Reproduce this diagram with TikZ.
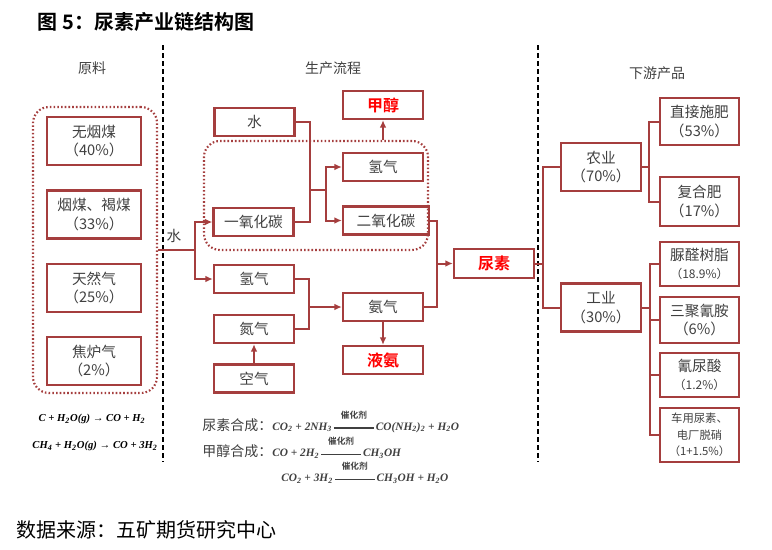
\documentclass[tikz,border=0pt]{standalone}
\usepackage[no-math]{fontspec}
\setmainfont{Noto Sans CJK SC}[BoldFont={Noto Sans CJK SC Bold}]
\newfontfamily\eqfont{Liberation Serif}
\usetikzlibrary{arrows.meta,positioning}
\definecolor{boxred}{RGB}{165,62,62}
\definecolor{txtgray}{RGB}{64,64,64}
\newcommand{\sub}[1]{\textsubscript{#1}}
\newcommand{\cuihua}{\,\raisebox{0.35ex}{\begin{tabular}[b]{@{}c@{}}\rmfamily\upshape\bfseries\fontsize{6.5}{6.5}\selectfont 催化剂\\[-2.5pt]\rule{30pt}{0.8pt}\end{tabular}}\,}
\newcommand{\eqform}[1]{{\eqfont\bfseries\itshape\fontsize{8}{10}\selectfont #1}}
\newcommand{\eqformb}[1]{{\eqfont\bfseries\itshape\fontsize{8.5}{10}\selectfont #1}}
\tikzset{
  box/.style={draw=boxred,line width=1.8pt,text=txtgray,align=center,inner sep=0pt,font=\fontsize{11}{14}\selectfont},
  mid/.style={box,minimum width=60pt,minimum height=21pt},
  raw/.style={box,minimum width=70.5pt,minimum height=36pt},
  use/.style={box,minimum width=60pt,minimum height=36pt},
  prod/.style={box,minimum width=59pt},
  hot/.style={text=red,font=\fontsize{12}{14}\bfseries\selectfont},
  group/.style={draw=boxred,line width=1.6pt,dash pattern=on 1.2pt off 1.6pt,rounded corners=12pt,inner sep=0pt},
  conn/.style={draw=boxred,line width=1.5pt},
  flow/.style={conn,-{Latex[length=5.5pt,width=5pt]}},
  divider/.style={line width=1.6pt,dash pattern=on 4pt off 2pt},
  head/.style={text=txtgray,font=\fontsize{10.5}{12}\selectfont},
  eq/.style={anchor=west,inner sep=0pt,text=txtgray,font=\fontsize{10.5}{12}\selectfont},
  smalltext/.style={font=\fontsize{8.5}{12.5}\selectfont}
}

\begin{document}
\begin{tikzpicture}[x=0.75pt,y=-0.75pt]
  \useasboundingbox (0,0) rectangle (772,550);
  \node[anchor=west,font=\fontsize{15}{18}\bfseries\selectfont] (title) at (33,22) {图 5：尿素产业链结构图};
  \node[anchor=west,font=\fontsize{15}{18}\selectfont] (source) at (12,530) {数据来源：五矿期货研究中心};
  \draw[divider] (163,45) -- (163,462);
  \draw[divider] (538,45) -- (538,462);
  \node[head] (hraw) at (92,68) {原料};
  \node[head] (hproc) at (333,68) {生产流程};
  \node[head] (huse) at (657,73) {下游产品};
  \node[group,minimum width=93pt,minimum height=214.5pt] (rawgrp) at (95,250) {};
  \node[raw] (wuyanmei) at (94,141) {无烟煤\\（40\%）};
  \node[raw] (yanmei) at (94,214.5) {烟煤、褐煤\\（33\%）};
  \node[raw] (gas) at (94,288) {天然气\\（25\%）};
  \node[raw] (coke) at (94,361) {焦炉气\\（2\%）};
  \node[group,minimum width=168pt,minimum height=81.75pt] (midgrp) at (316,195.5) {};
  \node[mid] (water) at (254.5,122) {水};
  \node[mid] (co) at (253.5,222) {一氧化碳};
  \node[mid] (h2a) at (254,279) {氢气};
  \node[mid] (n2) at (254,329) {氮气};
  \node[mid] (air) at (254,378.5) {空气};
  \node[mid,hot] (meoh) at (383,105) {甲醇};
  \node[mid] (h2b) at (383,167) {氢气};
  \node[mid,minimum width=64.5pt] (co2) at (386,220.5) {二氧化碳};
  \node[mid] (nh3) at (383,307) {氨气};
  \node[mid,hot] (lnh3) at (383,360) {液氨};
  \node[mid,hot,minimum height=21.75pt] (urea) at (494,263.5) {尿素};
  \node[use] (agri) at (601,167) {农业\\（70\%）};
  \node[use] (ind) at (601,307.5) {工业\\（30\%）};
  \node[prod,minimum height=35pt] (zjsf) at (699.5,121.5) {直接施肥\\（53\%）};
  \node[prod,minimum height=36.75pt] (fhf) at (699.5,201.5) {复合肥\\（17\%）};
  \node[prod,minimum height=33pt] (nqsz) at (699.5,264) {脲醛树脂\\{\fontsize{9}{12}\selectfont（18.9\%）}};
  \node[prod,minimum height=34.5pt] (sjqa) at (699.5,320) {三聚氰胺\\（6\%）};
  \node[prod,minimum height=33pt] (qns) at (699.5,375) {氰尿酸\\{\fontsize{9}{12}\selectfont（1.2\%）}};
  \node[prod,smalltext,minimum height=40.5pt] (cyns) at (699.5,435) {车用尿素、\\电厂脱硝\\（1+1.5\%）};
  \node[text=txtgray,font=\fontsize{11}{13}\selectfont] (wlabel) at (174,236) {水};
  \coordinate (jw) at (195,250);
  \coordinate (j1) at (310,190);
  \coordinate (j2) at (326,190);
  \coordinate (j3) at (437,263.5);
  \coordinate (j4) at (309,307);
  \coordinate (j5) at (543,263.5);
  \coordinate (j6) at (649,167);
  \coordinate (j7) at (650,307.5);
  \draw[conn] (rawgrp.east) -- (jw);
  \draw[flow] (jw) |- (co);
  \draw[flow] (jw) |- (h2a);
  \draw[conn] (water) -| (j1);
  \draw[conn] (co) -| (j1);
  \draw[conn] (j1) -- (j2);
  \draw[flow] (j2) |- (h2b);
  \draw[flow] (j2) |- (co2);
  \draw[flow] (midgrp.north -| meoh) -- (meoh);
  \draw[conn] (h2a) -| (j4);
  \draw[conn] (n2) -| (j4);
  \draw[flow] (j4) -- (nh3);
  \draw[flow] (air) -- (n2);
  \draw[flow] (nh3) -- (lnh3);
  \draw[conn] (co2) -| (j3);
  \draw[conn] (nh3) -| (j3);
  \draw[flow] (j3) -- (urea);
  \draw[conn] (urea) -- (j5);
  \draw[conn] (j5) |- (agri);
  \draw[conn] (j5) |- (ind);
  \draw[conn] (agri) -- (j6);
  \draw[conn] (j6) |- (zjsf);
  \draw[conn] (j6) |- (fhf);
  \draw[conn] (ind) -- (j7);
  \draw[conn] (j7) |- (nqsz);
  \draw[conn] (j7) |- (sjqa);
  \draw[conn] (j7) |- (qns);
  \draw[conn] (j7) |- (cyns);
  \node[inner sep=0pt] (eqc) at (92,419) {\eqform{C + H\sub{2}O(g) → CO + H\sub{2}}};
  \node[inner sep=0pt] (eqch) at (95,446) {\eqform{CH\sub{4} + H\sub{2}O(g) → CO + 3H\sub{2}}};
  \node[eq] (equrea) at (202,421) {尿素合成：\eqformb{CO\sub{2} + 2NH\sub{3}\cuihua CO(NH\sub{2})\sub{2} + H\sub{2}O}};
  \node[eq] (eqmeoh) at (202,447) {甲醇合成：\eqformb{CO + 2H\sub{2}\cuihua CH\sub{3}OH}};
  \node[eq] (eqmeohb) at (281,472) {\eqformb{CO\sub{2} + 3H\sub{2}\cuihua CH\sub{3}OH + H\sub{2}O}};
\end{tikzpicture}
\end{document}
